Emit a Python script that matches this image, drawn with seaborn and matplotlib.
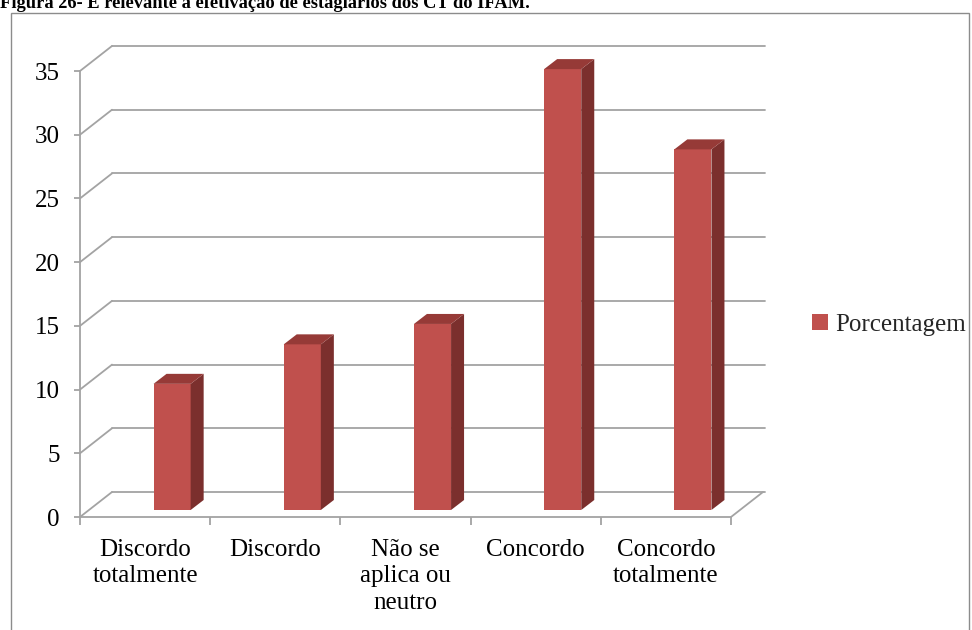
import matplotlib
matplotlib.use("Agg")
import matplotlib.pyplot as plt
from matplotlib.patches import Polygon, Rectangle, Patch
from matplotlib.lines import Line2D
import seaborn as sns
import pandas as pd

# Survey answers and their share of respondents (%)
categories = ["Discordo\ntotalmente", "Discordo", "Não se\naplica ou\nneutro",
              "Concordo", "Concordo\ntotalmente"]
values = [9.9, 13.0, 14.6, 34.6, 28.3]
y_ticks = [0, 5, 10, 15, 20, 25, 30, 35]
series_name = "Porcentagem"
title = "Figura 26- É relevante a efetivação de estagiários dos CT do IFAM."

FRONT = "#C0504D"
SIDE = "#7B2F2D"
TOP = "#963A37"
GRID = "#A3A3A3"

sns.set_theme(style="white")
plt.rcParams["font.family"] = ["Liberation Serif", "DejaVu Serif"]

W, H, DPI = 972, 630, 100
fig = plt.figure(figsize=(W / DPI, H / DPI), dpi=DPI)

# front plane of the chart in pixel coordinates (from the top-left corner)
x_left, x_right, y_zero, y_top = 80, 731, 517, 71
ax = fig.add_axes([x_left / W, 1 - y_zero / H,
                   (x_right - x_left) / W, (y_zero - y_top) / H])

df = pd.DataFrame({"categoria": categories, "valor": values})
sns.barplot(data=df, x="categoria", y="valor", color=FRONT, width=0.285,
            saturation=1, ax=ax, zorder=3)

ax.set_xlim(-0.5, len(categories) - 0.5)
ax.set_ylim(0, 35)

# pixels -> data units
sx = (x_right - x_left) / len(categories)
sy = (y_zero - y_top) / 35.0

# depth offsets (pixels): back wall, bar front face, bar depth
back_dx, back_dy = 32, 25
bar_dx, bar_dy = 27, 7
depth_dx, depth_dy = 13, 10

xmin, xmax = ax.get_xlim()

# back wall gridlines with their diagonal links to the front axis
for v in y_ticks:
    yb = v + back_dy / sy
    ax.add_line(Line2D([xmin + back_dx / sx, xmax + (back_dx + 2) / sx], [yb, yb],
                       color=GRID, lw=1.3, clip_on=False, zorder=1))
    ax.add_line(Line2D([xmin, xmin + back_dx / sx], [v, yb],
                       color=GRID, lw=1.3, clip_on=False, zorder=1))
# right edge of the floor
ax.add_line(Line2D([xmax, xmax + back_dx / sx], [0, back_dy / sy],
                   color=GRID, lw=1.3, clip_on=False, zorder=1))

# turn the flat bars into boxes
for p in ax.patches:
    x0 = p.get_x() + bar_dx / sx
    w = p.get_width()
    h = p.get_height()
    b = bar_dy / sy
    p.set_x(x0)
    p.set_y(b)
    p.set_edgecolor("none")
    p.set_clip_on(False)
    x1 = x0 + w
    ddx, ddy = depth_dx / sx, depth_dy / sy
    side = Polygon([(x1, b), (x1 + ddx, b + ddy), (x1 + ddx, b + h + ddy), (x1, b + h)],
                   closed=True, facecolor=SIDE, edgecolor="none", clip_on=False, zorder=3)
    top = Polygon([(x0, b + h), (x0 + ddx, b + h + ddy), (x1 + ddx, b + h + ddy), (x1, b + h)],
                  closed=True, facecolor=TOP, edgecolor="none", clip_on=False, zorder=3)
    ax.add_patch(side)
    ax.add_patch(top)

# axes styling
for s in ["top", "right"]:
    ax.spines[s].set_visible(False)
for s in ["left", "bottom"]:
    ax.spines[s].set_color(GRID)
    ax.spines[s].set_linewidth(1.3)
    ax.spines[s].set_zorder(2)

ax.set_yticks(y_ticks)
ax.set_yticklabels([str(t) for t in y_ticks])
ax.tick_params(axis="y", which="major", left=True, length=4.5, width=1.3,
               color=GRID, pad=10, labelsize=18, labelcolor="black")
ax.set_xticks(range(len(categories)))
ax.set_xticklabels(categories, linespacing=1.25)
ax.set_xticks([i - 0.5 for i in range(len(categories) + 1)], minor=True)
ax.tick_params(axis="x", which="major", bottom=False, length=0, pad=16,
               labelsize=18, labelcolor="black")
ax.tick_params(axis="x", which="minor", bottom=True, length=6, width=1.3, color=GRID)
ax.set_xlabel("")
ax.set_ylabel("")
ax.grid(False)

# legend
fig.legend(handles=[Patch(facecolor=FRONT, edgecolor="none")], labels=[series_name],
           loc="center left", bbox_to_anchor=(812 / W, 1 - 325 / H), frameon=False,
           handlelength=0.62, handleheight=0.62, handletextpad=0.3, borderpad=0,
           borderaxespad=0, fontsize=18)

# chart frame
fig.add_artist(Rectangle((10.5 / W, -0.05), (969 - 10.5) / W, 1 - 12.5 / H + 0.05,
                         transform=fig.transFigure, fill=False, edgecolor="#8C8C8C",
                         lw=1.0, clip_on=False))

# figure caption
fig.text(0.0, 1 - 8 / H, title, ha="left", va="baseline", fontsize=13.3,
         fontweight="bold", color="black")

fig.savefig("out.png", dpi=DPI, facecolor="white")
